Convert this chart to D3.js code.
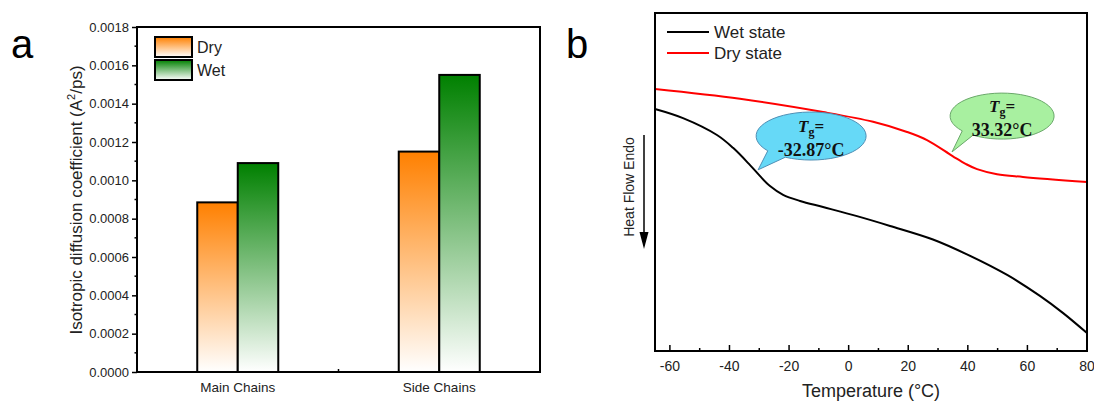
<!DOCTYPE html>
<html>
<head>
<meta charset="utf-8">
<script src="https://cdn.jsdelivr.net/npm/d3@7"></script>
<style>
  html, body { margin: 0; padding: 0; background: #fff; }
  svg { display: block; font-family: "Liberation Sans", Arial, sans-serif; }
</style>
</head>
<body>
<svg id="chart" width="1094" height="401"></svg>
<script>
// ---------- Data: panel a ----------
const categories = ["Main Chains", "Side Chains"];
const seriesNames = ["Dry", "Wet"];
const dryValues = [0.000885, 0.00115];
const wetValues = [0.00109, 0.00155];
const yTicksA = [0, 0.0002, 0.0004, 0.0006, 0.0008, 0.0010, 0.0012, 0.0014, 0.0016, 0.0018];

// ---------- Data: panel b ----------
const wetTemp = [-65, -55.6, -44.2, -38.8, -33.1, -29.8, -26.4, -22.0, -16.3, -8.6, 2.8, 13.9, 28.3, 39.7, 53.2, 64.2, 72.0, 80];
const wetHeat = [0.716, 0.689, 0.639, 0.601, 0.550, 0.518, 0.488, 0.462, 0.444, 0.426, 0.399, 0.370, 0.330, 0.286, 0.225, 0.163, 0.112, 0.053];
const dryTemp = [-65, -36.5, -8.6, 8.2, 19.6, 26.3, 35.0, 39.4, 43.1, 49.8, 58.5, 80];
const dryHeat = [0.775, 0.746, 0.707, 0.678, 0.648, 0.624, 0.576, 0.553, 0.538, 0.523, 0.515, 0.500];
const xTicksB = [-60, -40, -20, 0, 20, 40, 60, 80];
const tgWet = "-32.87°C";
const tgDry = "33.32°C";

const svg = d3.select("#chart");
const defs = svg.append("defs");

function grad(id, color) {
  const g = defs.append("linearGradient").attr("id", id)
    .attr("x1", 0).attr("y1", 0).attr("x2", 0).attr("y2", 1);
  g.append("stop").attr("offset", "0%").attr("stop-color", color);
  g.append("stop").attr("offset", "100%").attr("stop-color", "#ffffff");
}
grad("gDry", "#ff8000");
grad("gWet", "#008000");
const fills = { Dry: "url(#gDry)", Wet: "url(#gWet)" };

// ================= Panel a =================
const A = { left: 137, right: 540, top: 27, bottom: 372 };
const xA = d3.scaleBand().domain(categories).range([A.left, A.right]).padding(0);
const groupW = xA.bandwidth() * 0.402;
const xA1 = d3.scaleBand().domain(seriesNames).range([0, groupW]).padding(0);
const yA = d3.scaleLinear().domain([0, 0.0018]).range([A.bottom, A.top]);

svg.append("text").attr("x", 11).attr("y", 58).attr("font-size", 40).text("a");

const gA = svg.append("g");
const rows = categories.map((c, i) => ({ cat: c, Dry: dryValues[i], Wet: wetValues[i] }));
rows.forEach(r => {
  seriesNames.forEach(s => {
    gA.append("rect")
      .attr("x", xA(r.cat) + xA.bandwidth() / 2 - groupW / 2 + xA1(s))
      .attr("y", yA(r[s]))
      .attr("width", xA1.bandwidth())
      .attr("height", yA(0) - yA(r[s]))
      .attr("fill", fills[s])
      .attr("stroke", "#000").attr("stroke-width", 2);
  });
});

// frame
gA.append("rect").attr("x", A.left).attr("y", A.top)
  .attr("width", A.right - A.left).attr("height", A.bottom - A.top)
  .attr("fill", "none").attr("stroke", "#000").attr("stroke-width", 2);

// y axis ticks
const yAxisA = d3.axisLeft(yA).tickValues(yTicksA).tickFormat(d3.format(".4f")).tickSize(5).tickPadding(3);
const gyA = gA.append("g").attr("transform", `translate(${A.left},0)`).call(yAxisA);
gyA.select(".domain").remove();
gyA.selectAll("line").attr("stroke-width", 1.5);
gyA.selectAll("text").attr("font-size", 13).attr("fill", "#222").attr("font-family", "Liberation Sans, Arial");
const minorA = d3.range(0.0001, 0.0018, 0.0002);
gA.selectAll(".minA").data(minorA).enter().append("line")
  .attr("x1", A.left - 2.5).attr("x2", A.left)
  .attr("y1", d => yA(d)).attr("y2", d => yA(d))
  .attr("stroke", "#000").attr("stroke-width", 1.5);

// category labels
gA.selectAll(".cat").data(categories).enter().append("text")
  .attr("x", d => xA(d) + xA.bandwidth() / 2).attr("y", 392)
  .attr("text-anchor", "middle").attr("font-size", 13.5).attr("fill", "#222")
  .text(d => d);
// middle tick
gA.append("line").attr("x1", xA(categories[1])).attr("x2", xA(categories[1]))
  .attr("y1", A.bottom).attr("y2", A.bottom - 3).attr("stroke", "#000").attr("stroke-width", 1.5);

// y title
const yt = svg.append("text").attr("transform", "translate(82,200) rotate(-90)")
  .attr("text-anchor", "middle").attr("font-size", 17).attr("fill", "#222");
yt.append("tspan").text("Isotropic diffusion coefficient (A");
yt.append("tspan").attr("font-size", 11).attr("dy", -7).text("2");
yt.append("tspan").attr("dy", 7).text("/ps)");

// legend
seriesNames.forEach((s, i) => {
  const y0 = 37 + i * 23;
  svg.append("rect").attr("x", 155).attr("y", y0).attr("width", 37).attr("height", 20)
    .attr("fill", fills[s]).attr("stroke", "#000").attr("stroke-width", 2);
  svg.append("text").attr("x", 197).attr("y", y0 + 16).attr("font-size", 16).attr("fill", "#222").text(s);
});

// ================= Panel b =================
const B = { left: 655, right: 1087, top: 13, bottom: 351 };
const xB = d3.scaleLinear().domain([-65, 80]).range([B.left, B.right]);
const yB = d3.scaleLinear().domain([0, 1]).range([B.bottom, B.top]);

svg.append("text").attr("x", 566).attr("y", 58).attr("font-size", 40).text("b");

const gB = svg.append("g");
const line = d3.line().x(d => xB(d[0])).y(d => yB(d[1])).curve(d3.curveCatmullRom.alpha(0.5));
gB.append("path").datum(dryTemp.map((t, i) => [t, dryHeat[i]]))
  .attr("d", line).attr("fill", "none").attr("stroke", "#ff0000").attr("stroke-width", 2);
gB.append("path").datum(wetTemp.map((t, i) => [t, wetHeat[i]]))
  .attr("d", line).attr("fill", "none").attr("stroke", "#000").attr("stroke-width", 2);

// frame
gB.append("rect").attr("x", B.left).attr("y", B.top)
  .attr("width", B.right - B.left).attr("height", B.bottom - B.top)
  .attr("fill", "none").attr("stroke", "#000").attr("stroke-width", 2);

// x ticks (inward)
gB.selectAll(".tkB").data(xTicksB).enter().append("line")
  .attr("x1", d => xB(d)).attr("x2", d => xB(d))
  .attr("y1", B.bottom).attr("y2", B.bottom - 6).attr("stroke", "#000").attr("stroke-width", 1.5);
gB.selectAll(".mtkB").data(d3.range(-50, 80, 20)).enter().append("line")
  .attr("x1", d => xB(d)).attr("x2", d => xB(d))
  .attr("y1", B.bottom).attr("y2", B.bottom - 3).attr("stroke", "#000").attr("stroke-width", 1.5);
gB.selectAll(".lbB").data(xTicksB).enter().append("text")
  .attr("x", d => xB(d)).attr("y", 371).attr("text-anchor", "middle")
  .attr("font-size", 14).attr("fill", "#222").text(d => d);
svg.append("text").attr("x", (B.left + B.right) / 2).attr("y", 397).attr("text-anchor", "middle")
  .attr("font-size", 18).attr("fill", "#222").text("Temperature (°C)");

// Heat Flow Endo
svg.append("text").attr("transform", "translate(634,187) rotate(-90)")
  .attr("text-anchor", "middle").attr("font-size", 14).attr("fill", "#222").text("Heat Flow Endo");
svg.append("line").attr("x1", 644).attr("x2", 644).attr("y1", 135).attr("y2", 236)
  .attr("stroke", "#000").attr("stroke-width", 1.5);
svg.append("path").attr("d", "M639.5,232 L648.5,232 L644,249 Z").attr("fill", "#000");

// legend
const legB = [["Wet state", "#000"], ["Dry state", "#ff0000"]];
legB.forEach((d, i) => {
  const y0 = 32 + i * 21;
  svg.append("line").attr("x1", 667).attr("x2", 709).attr("y1", y0).attr("y2", y0)
    .attr("stroke", d[1]).attr("stroke-width", 2);
  svg.append("text").attr("x", 714).attr("y", y0 + 6).attr("font-size", 17).attr("fill", "#222").text(d[0]);
});

// bubbles
function bubble(cT, cV, rx, ry, tipT, tipV, a1, a2, fill, stroke, val) {
  const cx = xB(cT), cy = yB(cV);
  const tx = xB(tipT), ty = yB(tipV);
  const p = a => [cx + rx * Math.cos(a * Math.PI / 180), cy + ry * Math.sin(a * Math.PI / 180)];
  const s = p(a2), e = p(a1);
  const d = `M${s[0]},${s[1]} A${rx},${ry} 0 1 1 ${e[0]},${e[1]} L${tx},${ty} Z`;
  svg.append("path").attr("d", d).attr("fill", fill).attr("stroke", stroke).attr("stroke-width", 1);
  const t1 = svg.append("text").attr("x", cx).attr("y", cy - 4).attr("text-anchor", "middle")
    .attr("font-family", "Liberation Serif, Times New Roman, serif").attr("font-weight", "bold")
    .attr("font-size", 17).attr("fill", "#111");
  t1.append("tspan").attr("font-style", "italic").text("T");
  t1.append("tspan").attr("font-size", 12).attr("dy", 4).text("g");
  t1.append("tspan").attr("dy", -4).text("=");
  svg.append("text").attr("x", cx).attr("y", cy + 20).attr("text-anchor", "middle")
    .attr("font-family", "Liberation Serif, Times New Roman, serif").attr("font-weight", "bold")
    .attr("font-size", 18).attr("fill", "#111").text(val);
}
bubble(-12.6, 0.636, 55, 24, -30.4, 0.536, 118, 142, "#66d9f7", "#4f8fb5", tgWet);
bubble(51.5, 0.695, 52, 23, 34.7, 0.589, 124, 140, "#a8f0a0", "#6aa86a", tgDry);
</script>
</body>
</html>
